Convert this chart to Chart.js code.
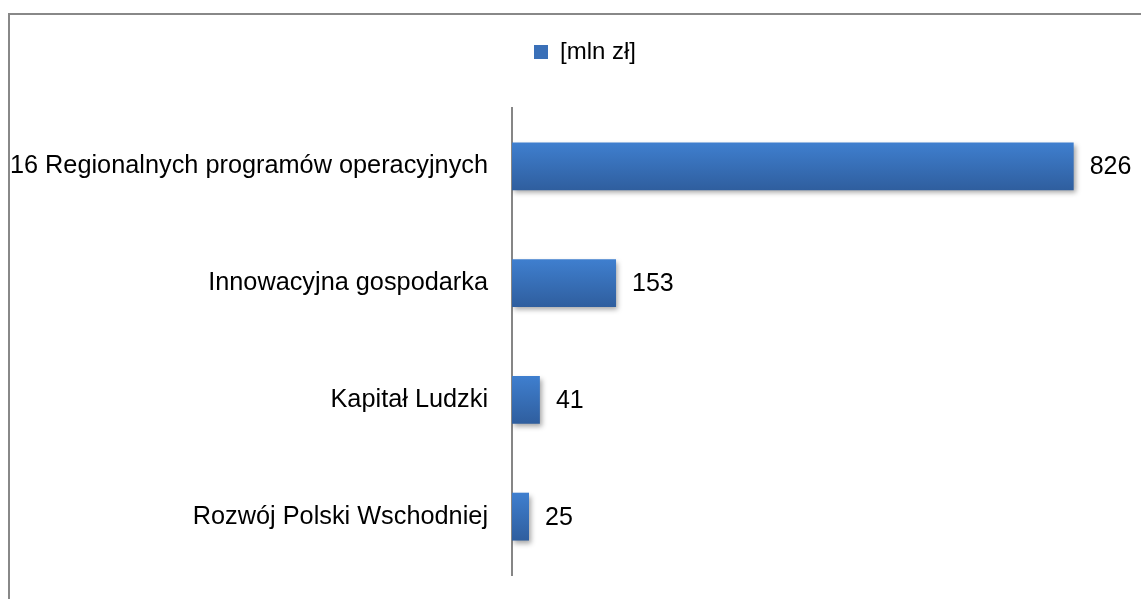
<!DOCTYPE html>
<html>
<head>
<meta charset="utf-8">
<script src="https://cdn.jsdelivr.net/npm/chart.js@4/dist/chart.umd.min.js"></script>
<style>
  html, body { margin: 0; padding: 0; background: #fff; overflow: hidden; }
  #wrap { position: relative; width: 1141px; height: 599px; }
  #frame {
    position: absolute; left: 8px; top: 13px; width: 1200px; height: 700px;
    border: 2px solid #888; box-sizing: border-box;
  }
  canvas { position: absolute; left: 0; top: 0; }
</style>
</head>
<body>
<div id="wrap">
  <div id="frame"></div>
  <canvas id="barChart" width="1141" height="599"></canvas>
</div>
<script>
// Horizontal bar chart — funding per programme [mln zł]
const categories = [
  "16 Regionalnych programów operacyjnych",
  "Innowacyjna gospodarka",
  "Kapitał Ludzki",
  "Rozwój Polski Wschodniej",
];
const values = [826, 153, 41, 25];
const seriesName = "[mln zł]";

const FONT = "'Liberation Sans', Arial, sans-serif";

// blue gradient per bar, lighter on top
function barFill(context) {
  const chart = context.chart;
  const y = chart.scales && chart.scales.y;
  if (!chart.chartArea || !y || y.top === undefined) return "#3a70b8";
  const cy = y.getPixelForValue(context.dataIndex);
  const g = chart.ctx.createLinearGradient(0, cy - 24, 0, cy + 24);
  g.addColorStop(0, "#3f7fcf");
  g.addColorStop(1, "#2f5e9e");
  return g;
}

const shadowPlugin = {
  id: "barShadow",
  beforeDatasetsDraw(chart) {
    const ctx = chart.ctx;
    ctx.save();
    ctx.shadowColor = "rgba(0, 0, 0, 0.35)";
    ctx.shadowBlur = 5;
    ctx.shadowOffsetX = 2;
    ctx.shadowOffsetY = 3;
  },
  afterDatasetsDraw(chart) {
    chart.ctx.restore();
    // value labels to the right of each bar
    const ctx = chart.ctx;
    const meta = chart.getDatasetMeta(0);
    ctx.save();
    ctx.font = "25px " + FONT;
    ctx.fillStyle = "#000";
    ctx.textBaseline = "middle";
    ctx.textAlign = "left";
    meta.data.forEach((bar, i) => {
      ctx.fillText(String(values[i]), bar.x + 16, bar.y + 1);
    });
    ctx.restore();
  },
};

// extra room under the legend, and nudge it a bit to the right
const legendGap = {
  id: "legendGap",
  beforeInit(chart) {
    const fit = chart.legend.fit;
    chart.legend.fit = function () {
      fit.bind(chart.legend)();
      this.height += 34;
    };
  },
  afterLayout(chart) {
    chart.legend.left += 19;
    chart.legend.right += 19;
  },
};

const barChart = new Chart(document.getElementById("barChart"), {
  type: "bar",
  data: {
    labels: categories,
    datasets: [
      {
        label: seriesName,
        data: values,
        backgroundColor: barFill,
        borderWidth: 0,
        categoryPercentage: 1,
        barPercentage: 0.41,
      },
    ],
  },
  options: {
    indexAxis: "y",
    responsive: false,
    animation: false,
    layout: {
      padding: { top: 30, right: 17, bottom: 24, left: 8 },
    },
    scales: {
      x: {
        min: 0,
        max: 900,
        display: false,
      },
      y: {
        grid: { display: false, drawTicks: false },
        border: { display: true, color: "#868686", width: 2 },
        ticks: {
          color: "#000",
          font: { family: FONT, size: 25.3 },
          padding: 24,
        },
        afterFit(scale) {
          scale.width = 504;
          scale.paddingTop = 0;
          scale.paddingBottom = 0;
        },
      },
    },
    plugins: {
      legend: {
        labels: {
          color: "#000",
          font: { family: FONT, size: 24 },
          boxWidth: 14,
          boxHeight: 14,
          padding: 10,
          generateLabels(chart) {
            return [{
              text: seriesName,
              fillStyle: "#3a70b8",
              strokeStyle: "#3a70b8",
              lineWidth: 0,
              datasetIndex: 0,
            }];
          },
        },
      },
      tooltip: { enabled: false },
    },
  },
  plugins: [shadowPlugin, legendGap],
});
</script>
</body>
</html>
